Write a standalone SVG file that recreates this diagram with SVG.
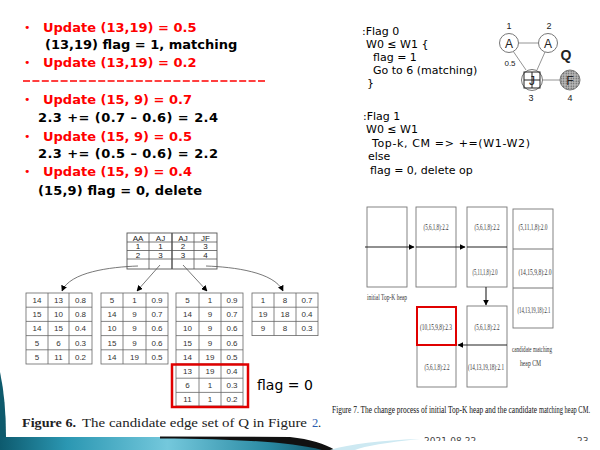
<svg xmlns="http://www.w3.org/2000/svg" width="600" height="450" viewBox="0 0 600 450">
<style>
.red{fill:#ff0000;font-family:"DejaVu Sans",sans-serif;font-weight:bold;font-size:13px}
.blk{fill:#000;font-family:"DejaVu Sans",sans-serif;font-weight:bold;font-size:13px}
.bul{fill:#ff0000;font-family:"DejaVu Sans",sans-serif;font-size:11px}
.code{fill:#000;font-family:"DejaVu Sans",sans-serif;font-size:11px}
.cell{fill:none;stroke:#666;stroke-width:0.8}
.ct{fill:#333;font-family:"Liberation Sans",Arial,sans-serif;font-size:8px;text-anchor:middle}
.ht{fill:#222;font-family:"Liberation Sans",Arial,sans-serif;font-size:8px;text-anchor:middle}
.conn{fill:none;stroke:#555;stroke-width:0.8}
.box{fill:#fff;stroke:#777;stroke-width:0.9}
.ft{fill:#333;font-family:"Liberation Serif",serif;font-size:8px;text-anchor:middle}
.fl{fill:#333;font-family:"Liberation Serif",serif;font-size:8px}
.cap{fill:#222;font-family:"Liberation Serif",serif;font-size:12.5px}
.cap7{fill:#111;font-family:"Liberation Serif",serif;font-size:7.2px}
.gl{fill:#222;font-family:"Liberation Sans",Arial,sans-serif;text-anchor:middle}
.arr{fill:none;stroke:#222;stroke-width:1.1}
</style>
<defs>
<marker id="ah" viewBox="0 0 10 10" refX="9" refY="5" markerWidth="6" markerHeight="6" orient="auto" markerUnits="userSpaceOnUse"><path d="M0,0 L10,5 L0,10 Z" fill="#000"/></marker>
<pattern id="dots" width="2.5" height="2.5" patternUnits="userSpaceOnUse"><rect width="2.5" height="2.5" fill="#bbb"/><circle cx="1.2" cy="1.2" r="0.7" fill="#555"/></pattern>
<linearGradient id="teal" x1="0" y1="0" x2="1" y2="0"><stop offset="0" stop-color="#0d5a6e"/><stop offset="0.2" stop-color="#2b97b2"/><stop offset="0.5" stop-color="#74c8dc"/><stop offset="0.8" stop-color="#2a8aa3"/><stop offset="1" stop-color="#0e4d60"/></linearGradient>
<clipPath id="dclip"><rect x="0" y="0" width="600" height="441"/></clipPath>
</defs>
<rect width="600" height="450" fill="#fff"/>

<!-- Left text -->
<g id="left-text">
<text class="bul" x="24" y="31">•</text><text class="red" x="43" y="32">Update (13,19) = 0.5</text>
<text class="blk" x="45" y="49">(13,19) flag = 1, matching</text>
<text class="bul" x="24" y="66">•</text><text class="red" x="43" y="67">Update (13,19) = 0.2</text>
<line x1="23" y1="81" x2="267" y2="81" stroke="#ff0000" stroke-width="1.3" stroke-dasharray="7 2.4"/>
<text class="bul" x="24" y="103">•</text><text class="red" x="43" y="104">Update (15, 9) = 0.7</text>
<text class="blk" x="38" y="122" textLength="180" lengthAdjust="spacing">2.3 += (0.7 – 0.6) = 2.4</text>
<text class="bul" x="24" y="140">•</text><text class="red" x="43" y="141">Update (15, 9) = 0.5</text>
<text class="blk" x="38" y="158" textLength="180" lengthAdjust="spacing">2.3 += (0.5 – 0.6) = 2.2</text>
<text class="bul" x="24" y="175">•</text><text class="red" x="43" y="176">Update (15, 9) = 0.4</text>
<text class="blk" x="38" y="195" textLength="164" lengthAdjust="spacing">(15,9) flag = 0, delete</text>
</g>

<!-- Code text -->
<g id="code-flag0">
<text class="code" x="362" y="35">:Flag 0</text>
<text class="code" x="366" y="48">W0 ≤ W1 {</text>
<text class="code" x="373" y="61">flag = 1</text>
<text class="code" x="373" y="74">Go to 6 (matching)</text>
<text class="code" x="367" y="87">}</text>
</g>
<g id="code-flag1">
<text class="code" x="363" y="120">:Flag 1</text>
<text class="code" x="366" y="133">W0 ≤ W1</text>
<text class="code" x="372" y="147" textLength="158" lengthAdjust="spacing">Top-k, CM =&gt; +=(W1-W2)</text>
<text class="code" x="368" y="160">else</text>
<text class="code" x="370" y="174">flag = 0, delete op</text>
</g>

<!-- Graph Q -->
<g id="q-edges" stroke="#888" stroke-width="0.9">
<line x1="518" y1="43" x2="539" y2="43"/>
<line x1="513" y1="51" x2="526" y2="70"/>
<line x1="545" y1="52" x2="537" y2="70"/>
<line x1="542" y1="80" x2="560" y2="80"/>
</g>
<g id="q-n1"><circle cx="509" cy="43" r="9.5" fill="#fff" stroke="#777"/><text class="gl" x="509" y="47.5" font-size="12">A</text><text class="gl" x="509" y="29" font-size="9">1</text></g>
<g id="q-n2"><circle cx="548" cy="43" r="9.5" fill="#fff" stroke="#777"/><text class="gl" x="548" y="47.5" font-size="12">A</text><text class="gl" x="549" y="29" font-size="9">2</text></g>
<g id="q-n3"><circle cx="532" cy="80" r="10.5" fill="#fff" stroke="#777"/><rect x="524" y="72" width="16" height="16" fill="none" stroke="#222" stroke-width="1"/><line x1="532" y1="72" x2="532" y2="88" stroke="#222"/><line x1="524" y1="80" x2="540" y2="80" stroke="#222"/><text class="gl" x="532" y="85" font-size="12">J</text><text class="gl" x="531" y="101" font-size="9">3</text></g>
<g id="q-n4"><circle cx="570" cy="80" r="10" fill="url(#dots)" stroke="#777"/><text class="gl" x="570" y="84.5" font-size="12">F</text><text class="gl" x="570" y="101" font-size="9">4</text></g>
<text class="gl" x="510" y="66" font-size="8">0.5</text>
<text class="gl" x="566" y="60" font-size="14" font-weight="bold">Q</text>

<!-- Figure 6 header table -->
<g id="header-table">
<rect x="127" y="233" width="90" height="36" fill="#fff" stroke="#555" stroke-width="0.9"/>
<g stroke="#555" stroke-width="0.8">
<line x1="127" y1="242" x2="217" y2="242"/><line x1="127" y1="250.5" x2="217" y2="250.5"/><line x1="127" y1="259" x2="217" y2="259"/>
<line x1="149" y1="233" x2="149" y2="269"/><line x1="172" y1="233" x2="172" y2="269" stroke-width="1.5"/><line x1="194" y1="233" x2="194" y2="269"/>
</g>
<text class="ht" x="138" y="240.5">AA</text><text class="ht" x="160.5" y="240.5">AJ</text><text class="ht" x="183" y="240.5">AJ</text><text class="ht" x="205.5" y="240.5">JF</text>
<text class="ht" x="138" y="249">1</text><text class="ht" x="160.5" y="249">1</text><text class="ht" x="183" y="249">2</text><text class="ht" x="205.5" y="249">3</text>
<text class="ht" x="138" y="257.5">2</text><text class="ht" x="160.5" y="257.5">3</text><text class="ht" x="183" y="257.5">3</text><text class="ht" x="205.5" y="257.5">4</text>
</g>

<!-- Figure 6 connectors -->
<g id="fig6-connectors">
<path class="conn" d="M138,266 C110,267 70,272 62,291" marker-end="url(#ah)"/>
<path class="conn" d="M160,265 L137,291" marker-end="url(#ah)"/>
<path class="conn" d="M183,265 L207,291" marker-end="url(#ah)"/>
<path class="conn" d="M206,266 C234,267 274,272 283,291" marker-end="url(#ah)"/>
</g>

<!-- Table 1 -->
<g id="table1">
<rect x="26" y="293" width="66" height="71" class="cell"/>
<g class="cell"><line x1="48" y1="293" x2="48" y2="364"/><line x1="69" y1="293" x2="69" y2="364"/>
<line x1="26" y1="307.2" x2="92" y2="307.2"/><line x1="26" y1="321.4" x2="92" y2="321.4"/><line x1="26" y1="335.6" x2="92" y2="335.6"/><line x1="26" y1="349.8" x2="92" y2="349.8"/></g>
<text class="ct" x="37" y="303">14</text><text class="ct" x="58.5" y="303">13</text><text class="ct" x="80.5" y="303">0.8</text>
<text class="ct" x="37" y="317">15</text><text class="ct" x="58.5" y="317">10</text><text class="ct" x="80.5" y="317">0.8</text>
<text class="ct" x="37" y="331">14</text><text class="ct" x="58.5" y="331">15</text><text class="ct" x="80.5" y="331">0.4</text>
<text class="ct" x="37" y="346">5</text><text class="ct" x="58.5" y="346">6</text><text class="ct" x="80.5" y="346">0.3</text>
<text class="ct" x="37" y="360">5</text><text class="ct" x="58.5" y="360">11</text><text class="ct" x="80.5" y="360">0.2</text>
</g>

<!-- Table 2 -->
<g id="table2">
<rect x="101" y="293" width="67" height="71" class="cell"/>
<g class="cell"><line x1="123" y1="293" x2="123" y2="364"/><line x1="146" y1="293" x2="146" y2="364"/>
<line x1="101" y1="307.2" x2="168" y2="307.2"/><line x1="101" y1="321.4" x2="168" y2="321.4"/><line x1="101" y1="335.6" x2="168" y2="335.6"/><line x1="101" y1="349.8" x2="168" y2="349.8"/></g>
<text class="ct" x="112" y="303">5</text><text class="ct" x="134.5" y="303">1</text><text class="ct" x="157" y="303">0.9</text>
<text class="ct" x="112" y="317">14</text><text class="ct" x="134.5" y="317">9</text><text class="ct" x="157" y="317">0.7</text>
<text class="ct" x="112" y="331">10</text><text class="ct" x="134.5" y="331">9</text><text class="ct" x="157" y="331">0.6</text>
<text class="ct" x="112" y="346">15</text><text class="ct" x="134.5" y="346">9</text><text class="ct" x="157" y="346">0.6</text>
<text class="ct" x="112" y="360">14</text><text class="ct" x="134.5" y="360">19</text><text class="ct" x="157" y="360">0.5</text>
</g>

<!-- Table 3 -->
<g id="table3">
<rect x="176" y="293" width="67" height="113" class="cell"/>
<g class="cell"><line x1="199" y1="293" x2="199" y2="406"/><line x1="221" y1="293" x2="221" y2="406"/>
<line x1="176" y1="307.2" x2="243" y2="307.2"/><line x1="176" y1="321.4" x2="243" y2="321.4"/><line x1="176" y1="335.6" x2="243" y2="335.6"/><line x1="176" y1="349.8" x2="243" y2="349.8"/><line x1="176" y1="364" x2="243" y2="364"/><line x1="176" y1="378.2" x2="243" y2="378.2"/><line x1="176" y1="392.4" x2="243" y2="392.4"/></g>
<text class="ct" x="187.5" y="303">5</text><text class="ct" x="210" y="303">1</text><text class="ct" x="232" y="303">0.9</text>
<text class="ct" x="187.5" y="317">14</text><text class="ct" x="210" y="317">9</text><text class="ct" x="232" y="317">0.7</text>
<text class="ct" x="187.5" y="331">10</text><text class="ct" x="210" y="331">9</text><text class="ct" x="232" y="331">0.6</text>
<text class="ct" x="187.5" y="346">15</text><text class="ct" x="210" y="346">9</text><text class="ct" x="232" y="346">0.6</text>
<text class="ct" x="187.5" y="360">14</text><text class="ct" x="210" y="360">19</text><text class="ct" x="232" y="360">0.5</text>
<text class="ct" x="187.5" y="374">13</text><text class="ct" x="210" y="374">19</text><text class="ct" x="232" y="374">0.4</text>
<text class="ct" x="187.5" y="388">6</text><text class="ct" x="210" y="388">1</text><text class="ct" x="232" y="388">0.3</text>
<text class="ct" x="187.5" y="402">11</text><text class="ct" x="210" y="402">1</text><text class="ct" x="232" y="402">0.2</text>
<rect x="172" y="364.5" width="76" height="42.5" fill="none" stroke="#e00000" stroke-width="2.5"/>
</g>
<text id="flag0" x="257" y="390" font-family="'DejaVu Sans',sans-serif" font-size="14" fill="#000">flag = 0</text>

<!-- Table 4 -->
<g id="table4">
<rect x="252" y="293" width="66" height="42.6" class="cell"/>
<g class="cell"><line x1="274" y1="293" x2="274" y2="335.6"/><line x1="296" y1="293" x2="296" y2="335.6"/>
<line x1="252" y1="307.2" x2="318" y2="307.2"/><line x1="252" y1="321.4" x2="318" y2="321.4"/></g>
<text class="ct" x="263" y="303">1</text><text class="ct" x="285" y="303">8</text><text class="ct" x="307" y="303">0.7</text>
<text class="ct" x="263" y="317">19</text><text class="ct" x="285" y="317">18</text><text class="ct" x="307" y="317">0.4</text>
<text class="ct" x="263" y="331">9</text><text class="ct" x="285" y="331">8</text><text class="ct" x="307" y="331">0.3</text>
</g>

<!-- Figure 6 caption -->
<text class="cap" x="22" y="427" font-weight="bold" textLength="54" lengthAdjust="spacingAndGlyphs">Figure 6.</text>
<text class="cap" x="82" y="427" textLength="225" lengthAdjust="spacingAndGlyphs">The candidate edge set of Q in Figure</text>
<text class="cap" x="312" y="427" style="fill:#2a5db0">2</text>
<text class="cap" x="318" y="427">.</text>

<!-- Figure 7 -->
<g id="heap-a"><rect class="box" x="367" y="207" width="40" height="80"/></g>
<g id="heap-b"><rect class="box" x="416" y="207" width="40" height="80"/><text class="ft" x="436" y="230" textLength="25" lengthAdjust="spacingAndGlyphs">(5,6,1,8):2.2</text></g>
<g id="heap-c"><rect class="box" x="467" y="207" width="40" height="80"/><text class="ft" x="487" y="230" textLength="25" lengthAdjust="spacingAndGlyphs">(5,6,1,8):2.2</text><text class="ft" x="485" y="275" textLength="25" lengthAdjust="spacingAndGlyphs">(5,11,1,8):2.0</text></g>
<g id="heap-e"><rect class="box" x="513" y="209" width="40" height="119"/><line x1="513" y1="249" x2="553" y2="249" stroke="#777"/><line x1="513" y1="288" x2="553" y2="288" stroke="#777"/>
<text class="ft" x="533" y="230" textLength="29" lengthAdjust="spacingAndGlyphs">(5,11,1,8):2.0</text>
<text class="ft" x="535" y="275" textLength="33" lengthAdjust="spacingAndGlyphs">(14,15,9,8):2.0</text>
<text class="ft" x="534" y="313" textLength="33" lengthAdjust="spacingAndGlyphs">(14,13,19,18):2.1</text></g>
<g id="heap-d"><rect class="box" x="467" y="306" width="40" height="81"/><text class="ft" x="487" y="330" textLength="25" lengthAdjust="spacingAndGlyphs">(5,6,1,8):2.2</text><text class="ft" x="486" y="370" textLength="36" lengthAdjust="spacingAndGlyphs">(14,13,19,18):2.1</text></g>
<g id="heap-f"><rect class="box" x="417" y="307" width="39" height="80"/><rect x="417" y="307" width="39" height="38" fill="none" stroke="#e00000" stroke-width="2"/><text class="ft" x="436" y="330" textLength="32" lengthAdjust="spacingAndGlyphs">(10,15,9,8):2.3</text><text class="ft" x="437" y="370" textLength="25" lengthAdjust="spacingAndGlyphs">(5,6,1,8):2.2</text></g>
<g id="fig7-connectors">
<path class="arr" d="M365,247 H414" marker-end="url(#ah)"/>
<path class="arr" d="M416,247 H465" marker-end="url(#ah)"/>
<path class="arr" d="M467,247 H507" stroke-width="1.5"/>
<path class="arr" d="M486,287 V305" marker-end="url(#ah)"/>
<path class="arr" d="M507,345 H458" stroke-width="1.5" marker-end="url(#ah)"/>
</g>
<text class="fl" x="367" y="300" font-size="7" textLength="40" lengthAdjust="spacingAndGlyphs">initial Top-K heap</text>
<text class="fl" x="512" y="352" font-size="7.5" textLength="40" lengthAdjust="spacingAndGlyphs">candidate matching</text>
<text class="fl" x="520" y="366" font-size="7.5" textLength="21" lengthAdjust="spacingAndGlyphs">heap CM</text>
<text class="cap7" transform="translate(332,413) scale(1,1.5)" x="0" y="0" textLength="205" lengthAdjust="spacingAndGlyphs">Figure 7. The change process of initial Top-K heap and the candidate</text>
<text class="cap7" transform="translate(539,413) scale(1,1.5)" x="0" y="0" textLength="51" lengthAdjust="spacingAndGlyphs">matching heap CM.</text>

<!-- Footer -->
<g clip-path="url(#dclip)" font-family="'DejaVu Sans',sans-serif" font-size="9" fill="#444">
<text x="424" y="444">2021-08-22</text>
<text x="577" y="444">23</text>
</g>
<path d="M0,372 Q6,400 6,437 L0,437 Z" fill="#0e5a6c"/>
<path d="M0,437 L170,437 C240,438 290,441 335,450 L0,450 Z" fill="url(#teal)"/>
<path d="M160,436.5 L290,437 C310,439 325,444 335,450 L322,450 C290,442 240,439 160,438.5 Z" fill="#111"/>
<path d="M330,450 Q360,441 420,439 Q370,444 355,450 Z" fill="#cde9f2"/>
</svg>
